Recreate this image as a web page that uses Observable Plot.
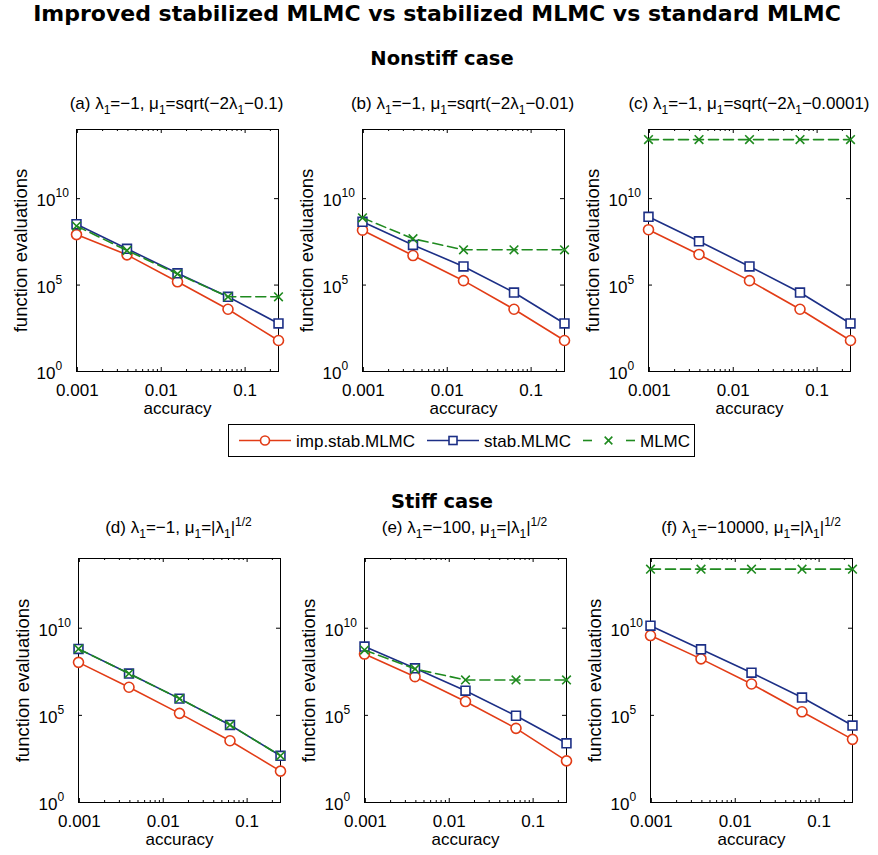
<!DOCTYPE html>
<html><head><meta charset="utf-8">
<script src="https://cdn.jsdelivr.net/npm/d3@7"></script>
<script src="https://cdn.jsdelivr.net/npm/@observablehq/plot@0.6"></script>
<style>
body{margin:0;background:#fff;}
#wrap{position:relative;width:878px;height:855px;overflow:hidden;background:#fff;font-family:"Liberation Sans",Arial,sans-serif;}
.panel{position:absolute;}
#overlay{position:absolute;left:0;top:0;}
</style></head><body><div id="wrap"></div>
<script>
// ---------- data ----------
const accuracy = [0.0009765625, 0.00390625, 0.015625, 0.0625, 0.25];
const xTickValues = [0.001, 0.01, 0.1];
const yTickValues = [1, 1e5, 1e10];
const seriesNames = ["imp.stab.MLMC", "stab.MLMC", "MLMC"];

const impStab_a = [8.3e7, 5.6e6, 1.55e5, 4.0e3, 62];
const stab_a    = [3.3e8, 1.26e7, 4.8e5, 2.1e4, 600];
const mlmc_a    = [2.6e8, 1.0e7, 4.4e5, 2.1e4, 2.1e4];

const impStab_b = [1.5e8, 5.1e6, 1.8e5, 4.0e3, 62];
const stab_b    = [4.6e8, 2.1e7, 1.2e6, 3.7e4, 600];
const mlmc_b    = [7.8e8, 4.8e7, 1.1e7, 1.1e7, 1.1e7];

const impStab_c = [1.6e8, 5.9e6, 1.8e5, 4.0e3, 62];
const stab_c    = [8.9e8, 3.4e7, 1.2e6, 3.7e4, 600];
const mlmc_c    = [2.6e13, 2.6e13, 2.6e13, 2.6e13, 2.6e13];

const impStab_d = [1.1e8, 4.1e6, 1.3e5, 3.5e3, 63];
const stab_d    = [6.5e8, 2.5e7, 9.1e5, 2.8e4, 480];
const mlmc_d    = [6.5e8, 2.5e7, 9.1e5, 2.8e4, 480];

const impStab_e = [3.3e8, 1.66e7, 6.2e5, 1.8e4, 245];
const stab_e    = [8.9e8, 5.0e7, 2.6e6, 9.5e4, 2.5e3];
const mlmc_e    = [5.6e8, 4.6e7, 1.07e7, 1.07e7, 1.07e7];

const impStab_f = [3.8e9, 1.74e8, 6.3e6, 1.6e5, 4.2e3];
const stab_f    = [1.4e10, 6.2e8, 2.8e7, 1.05e6, 2.6e4];
const mlmc_f    = [2.45e13, 2.45e13, 2.45e13, 2.45e13, 2.45e13];

const mainTitle = "Improved stabilized MLMC vs stabilized MLMC vs standard MLMC";
const sectionTitles = ["Nonstiff case", "Stiff case"];
const xLabel = "accuracy";
const yLabel = "function evaluations";

// title segments: [text, kind] kind: "" normal, "sub", "sup"
const panelTitles = [
  [["(a) λ",""],["1","sub"],["=−1, μ",""],["1","sub"],["=sqrt(−2λ",""],["1","sub"],["−0.1)",""]],
  [["(b) λ",""],["1","sub"],["=−1, μ",""],["1","sub"],["=sqrt(−2λ",""],["1","sub"],["−0.01)",""]],
  [["(c) λ",""],["1","sub"],["=−1, μ",""],["1","sub"],["=sqrt(−2λ",""],["1","sub"],["−0.0001)",""]],
  [["(d) λ",""],["1","sub"],["=−1, μ",""],["1","sub"],["=|λ",""],["1","sub"],["|",""],["1/2","sup"]],
  [["(e) λ",""],["1","sub"],["=−100, μ",""],["1","sub"],["=|λ",""],["1","sub"],["|",""],["1/2","sup"]],
  [["(f) λ",""],["1","sub"],["=−10000, μ",""],["1","sub"],["=|λ",""],["1","sub"],["|",""],["1/2","sup"]]
];

const panelData = [
  [impStab_a, stab_a, mlmc_a],
  [impStab_b, stab_b, mlmc_b],
  [impStab_c, stab_c, mlmc_c],
  [impStab_d, stab_d, mlmc_d],
  [impStab_e, stab_e, mlmc_e],
  [impStab_f, stab_f, mlmc_f]
];

// ---------- styles / layout ----------
const colors = ["#e23c16", "#1c2f86", "#1f8a1f"];
const FONT = "Liberation Sans, Arial, sans-serif";
const FS = 17;
const W = 202;
const layout = [
  {L: 75.5, T: 129, H: 242}, {L: 361.5, T: 129, H: 242}, {L: 648, T: 129, H: 242},
  {L: 77.5, T: 558, H: 244}, {L: 363.5, T: 558, H: 244}, {L: 650, T: 558, H: 244}
];
const titleBaselines = [108.5, 108.5, 108.5, 533, 533, 533];

const wrap = document.getElementById("wrap");

// minor tick positions for log x axis
const xMinor = [];
for (let k = -4; k <= -1; k++) for (let m = 2; m <= 9; m++) {
  const v = m * Math.pow(10, k);
  if (v >= accuracy[0] && v <= accuracy[4]) xMinor.push(v);
}

function makePanel(idx) {
  const {L, T, H} = layout[idx];
  const mL = 75, mT = 10, mR = 14, mB = 50;
  const data = panelData[idx];
  const rows = [];
  data.forEach((arr, s) => arr.forEach((v, i) => rows.push({acc: accuracy[i], val: v, s})));
  const sel = s => rows.filter(r => r.s === s);
  const marks = [
    Plot.frame({stroke: "black", strokeWidth: 1}),
    Plot.tickX(xTickValues, {x: d => d, stroke: "black", insetTop: H - 4}),
    Plot.tickX(xTickValues, {x: d => d, stroke: "black", insetBottom: H - 4}),
    Plot.tickX(xMinor, {x: d => d, stroke: "black", insetTop: H - 2}),
    Plot.tickX(xMinor, {x: d => d, stroke: "black", insetBottom: H - 2}),
    Plot.tickY(yTickValues, {y: d => d, stroke: "black", insetRight: W - 4}),
    Plot.tickY(yTickValues, {y: d => d, stroke: "black", insetLeft: W - 4}),
    Plot.axisX({ticks: xTickValues, tickFormat: d => String(d), tickSize: 0, tickPadding: 12, fontSize: FS, label: null}),
    Plot.text(yTickValues, {y: d => d, frameAnchor: "left", text: () => "10", textAnchor: "end", lineAnchor: "middle", dx: -21, dy: 2, fontSize: FS, fill: "black"}),
    Plot.text(yTickValues, {y: d => d, frameAnchor: "left", text: d => String(Math.round(Math.log10(d))), textAnchor: "start", lineAnchor: "middle", dx: -21, dy: -5, fontSize: 12, fill: "black"}),
    Plot.text([xLabel], {frameAnchor: "bottom", text: d => d, textAnchor: "middle", lineAnchor: "middle", dy: 37, fontSize: FS, fill: "black"}),
    Plot.text([yLabel], {frameAnchor: "left", text: d => d, rotate: -90, textAnchor: "middle", lineAnchor: "middle", dx: -55, fontSize: 18.5, fill: "black"}),
    // series
    Plot.line(sel(0), {x: "acc", y: "val", stroke: colors[0], strokeWidth: 1.6}),
    Plot.dot(sel(0), {x: "acc", y: "val", r: 5, stroke: colors[0], fill: "white", strokeWidth: 1.6}),
    Plot.line(sel(1), {x: "acc", y: "val", stroke: colors[1], strokeWidth: 1.6}),
    Plot.dot(sel(1), {x: "acc", y: "val", r: 5, symbol: "square", stroke: colors[1], fill: "white", strokeWidth: 1.6}),
    Plot.line(sel(2), {x: "acc", y: "val", stroke: colors[2], strokeWidth: 1.6, strokeDasharray: "10,5"}),
    Plot.dot(sel(2), {x: "acc", y: "val", r: 4, symbol: "times", stroke: colors[2], strokeWidth: 1.6})
  ];
  const chart = Plot.plot({
    width: mL + W + mR, height: mT + H + mB,
    marginLeft: mL, marginTop: mT, marginRight: mR, marginBottom: mB,
    style: {fontFamily: FONT, fontSize: FS + "px", background: "transparent", overflow: "visible", color: "black"},
    x: {type: "log", domain: [accuracy[0], accuracy[4]]},
    y: {type: "log", domain: [1, 1e14], axis: null},
    marks
  });
  const div = document.createElement("div");
  div.className = "panel";
  div.style.left = (L - mL) + "px";
  div.style.top = (T - mT) + "px";
  div.appendChild(chart);
  wrap.appendChild(div);
}
for (let i = 0; i < 6; i++) makePanel(i);

// ---------- overlay: titles and legend ----------
const svg = d3.select(wrap).append("svg").attr("id", "overlay")
  .attr("width", 878).attr("height", 855).style("pointer-events", "none");

svg.append("text").attr("x", 437).attr("y", 21).attr("text-anchor", "middle")
  .attr("font-family", "DejaVu Sans, sans-serif").attr("font-weight", "bold").attr("font-size", 22)
  .text(mainTitle);
svg.append("text").attr("x", 442).attr("y", 65).attr("text-anchor", "middle")
  .attr("font-family", "DejaVu Sans, sans-serif").attr("font-weight", "bold").attr("font-size", 19.5)
  .text(sectionTitles[0]);
svg.append("text").attr("x", 442).attr("y", 508).attr("text-anchor", "middle")
  .attr("font-family", "DejaVu Sans, sans-serif").attr("font-weight", "bold").attr("font-size", 19.5)
  .text(sectionTitles[1]);

panelTitles.forEach((segs, i) => {
  const {L} = layout[i];
  const t = svg.append("text").attr("x", L + W / 2).attr("y", titleBaselines[i])
    .attr("text-anchor", "middle").attr("font-family", FONT).attr("font-size", FS);
  let shift = 0;
  segs.forEach(([txt, kind]) => {
    const target = kind === "sub" ? 5 : kind === "sup" ? -7 : 0;
    t.append("tspan").attr("dy", target - shift)
      .attr("font-size", kind ? 12 : FS).text(txt);
    shift = target;
  });
});

// legend
const lg = svg.append("g");
lg.append("rect").attr("x", 228.5).attr("y", 424.5).attr("width", 466).attr("height", 32)
  .attr("fill", "white").attr("stroke", "black");
const ly = 440.5;
lg.append("line").attr("x1", 239).attr("x2", 291).attr("y1", ly).attr("y2", ly).attr("stroke", colors[0]).attr("stroke-width", 1.6);
lg.append("circle").attr("cx", 265).attr("cy", ly).attr("r", 4.5).attr("fill", "white").attr("stroke", colors[0]).attr("stroke-width", 1.6);
lg.append("text").attr("x", 296).attr("y", ly + 6).attr("font-family", FONT).attr("font-size", FS).text(seriesNames[0]);
lg.append("line").attr("x1", 427).attr("x2", 479).attr("y1", ly).attr("y2", ly).attr("stroke", colors[1]).attr("stroke-width", 1.6);
lg.append("rect").attr("x", 449).attr("y", ly - 4).attr("width", 8).attr("height", 8).attr("fill", "white").attr("stroke", colors[1]).attr("stroke-width", 1.6);
lg.append("text").attr("x", 484).attr("y", ly + 6).attr("font-family", FONT).attr("font-size", FS).text(seriesNames[1]);
lg.append("line").attr("x1", 583).attr("x2", 592).attr("y1", ly).attr("y2", ly).attr("stroke", colors[2]).attr("stroke-width", 1.6);
lg.append("line").attr("x1", 626).attr("x2", 635).attr("y1", ly).attr("y2", ly).attr("stroke", colors[2]).attr("stroke-width", 1.6);
lg.append("path").attr("transform", `translate(608.5,${ly})`).attr("d", d3.symbol(d3.symbolTimes, 40)())
  .attr("fill", "none").attr("stroke", colors[2]).attr("stroke-width", 1.6);
lg.append("text").attr("x", 640).attr("y", ly + 6).attr("font-family", FONT).attr("font-size", FS).text(seriesNames[2]);
</script>
</body></html>
